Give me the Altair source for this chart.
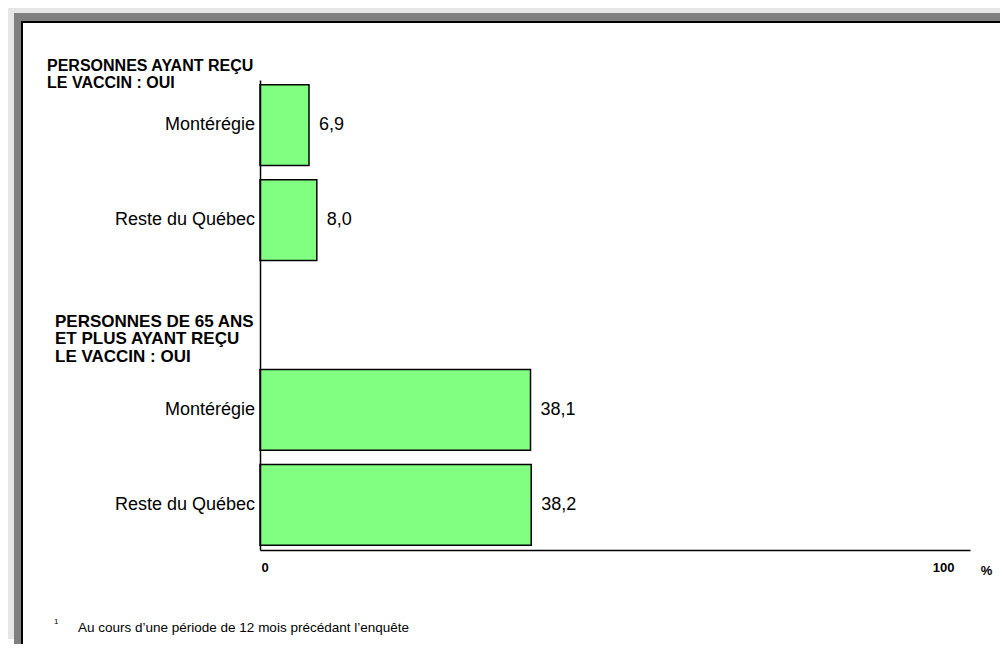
import altair as alt
import pandas as pd

# ---- data ----
slot_keys = ["a", "b", "c", "d", "e"]          # "c" is the empty slot between groups
bar_keys = ["a", "b", "d", "e"]
regions = ["Montérégie", "Reste du Québec", "Montérégie", "Reste du Québec"]
values = [6.9, 8.0, 38.1, 38.2]
header_keys = ["a", "c"]
headers = ["PERSONNES AYANT REÇU\nLE VACCIN : OUI",
           "PERSONNES DE 65 ANS\nET PLUS AYANT REÇU\nLE VACCIN : OUI"]
x_ticks = [0, 100]
footnote_mark = "1"
footnote = "Au cours d\u2019une période de 12 mois précédant l\u2019enquête"

bars_df = pd.DataFrame({"key": bar_keys, "region": regions, "value": values})
bars_df["label"] = [f"{v:.1f}".replace(".", ",") for v in values]
head_df = pd.DataFrame({"key": header_keys, "text": headers})
one = pd.DataFrame({"d": [0]})

FONT = "Liberation Sans"
yscale = alt.Scale(domain=slot_keys, paddingInner=0.15, paddingOuter=0.05)
xscale = alt.Scale(domain=[0, 100])

# ---- decorative frame ----
frame_dark = alt.Chart(one).mark_rect(fill="#808080").encode(
    x=alt.value(-246), x2=alt.value(760), y=alt.value(-67), y2=alt.value(600))
frame_white = alt.Chart(one).mark_rect(fill="white", stroke="black", strokeWidth=2).encode(
    x=alt.value(-238), x2=alt.value(780), y=alt.value(-58), y2=alt.value(620))
corner = alt.Chart(one).mark_rect(fill="white").encode(
    x=alt.value(-253), x2=alt.value(-246), y=alt.value(559), y2=alt.value(566))

bars = alt.Chart(bars_df).mark_bar(fill="#80FF80", stroke="black", strokeWidth=1.5).encode(
    x=alt.X("value:Q", scale=xscale,
            axis=alt.Axis(values=x_ticks, ticks=False, grid=False, domainColor="black",
                          domainWidth=1.5, labelFontWeight="bold", labelFontSize=13,
                          labelColor="black", labelPadding=11,
                          labelAlign={"condition": {"test": "datum.value == 0", "value": "left"}, "value": "right"},
                          labelOffset={"condition": {"test": "datum.value == 0", "value": 1}, "value": -16},
                          title="%", titleX=726, titleY=20, titleBaseline="middle",
                          titleAlign="center", titleFontWeight="bold", titleFontSize=13,
                          titleColor="black", zindex=1)),
    y=alt.Y("key:N", scale=yscale,
            axis=alt.Axis(labels=False, ticks=False, grid=False, title=None,
                          domainColor="black", domainWidth=1.5, zindex=1)),
)

values_txt = alt.Chart(bars_df).mark_text(align="left", baseline="middle", dx=10,
                                          fontSize=18, font=FONT, color="black").encode(
    x=alt.X("value:Q", scale=xscale), y=alt.Y("key:N", scale=yscale), text="label:N")

cat_txt = alt.Chart(bars_df).mark_text(align="right", baseline="middle",
                                       fontSize=18, font=FONT, color="black").encode(
    x=alt.value(-5), y=alt.Y("key:N", scale=yscale), text="region:N")

head1 = alt.Chart(head_df).transform_filter(alt.datum.key == header_keys[0]).mark_text(
    align="left", baseline="top", lineBreak="\n", fontSize=16, fontWeight="bold",
    font=FONT, color="black", dy=-27, lineHeight=17.5).encode(
    x=alt.value(-213), y=alt.Y("key:N", scale=yscale, bandPosition=0), text="text:N")

head2 = alt.Chart(head_df).transform_filter(alt.datum.key == header_keys[1]).mark_text(
    align="left", baseline="top", lineBreak="\n", fontSize=17, fontWeight="bold",
    font=FONT, color="black", dy=39, lineHeight=17.5).encode(
    x=alt.value(-205), y=alt.Y("key:N", scale=yscale, bandPosition=0), text="text:N")

foot_n = alt.Chart(pd.DataFrame({"t": [footnote_mark]})).mark_text(
    align="left", baseline="middle", fontSize=8, font=FONT, color="black").encode(
    x=alt.value(-206), y=alt.value(542), text="t:N")
foot_t = alt.Chart(pd.DataFrame({"t": [footnote]})).mark_text(
    align="left", baseline="middle", fontSize=13.5, font=FONT, color="black").encode(
    x=alt.value(-182), y=alt.value(548), text="t:N")

chart = alt.layer(frame_dark, frame_white, corner, bars, values_txt, cat_txt, head1, head2,
                  foot_n, foot_t).properties(
    width=710, height=470,
    autosize=alt.AutoSizeParams(type="none"),
    padding={"left": 252, "top": 72, "right": 30, "bottom": 94},
    background="#e6e6e6",
).configure_view(strokeWidth=0).configure(font=FONT)

chart.save("out.html", embed_options={"renderer": "svg", "actions": False})
